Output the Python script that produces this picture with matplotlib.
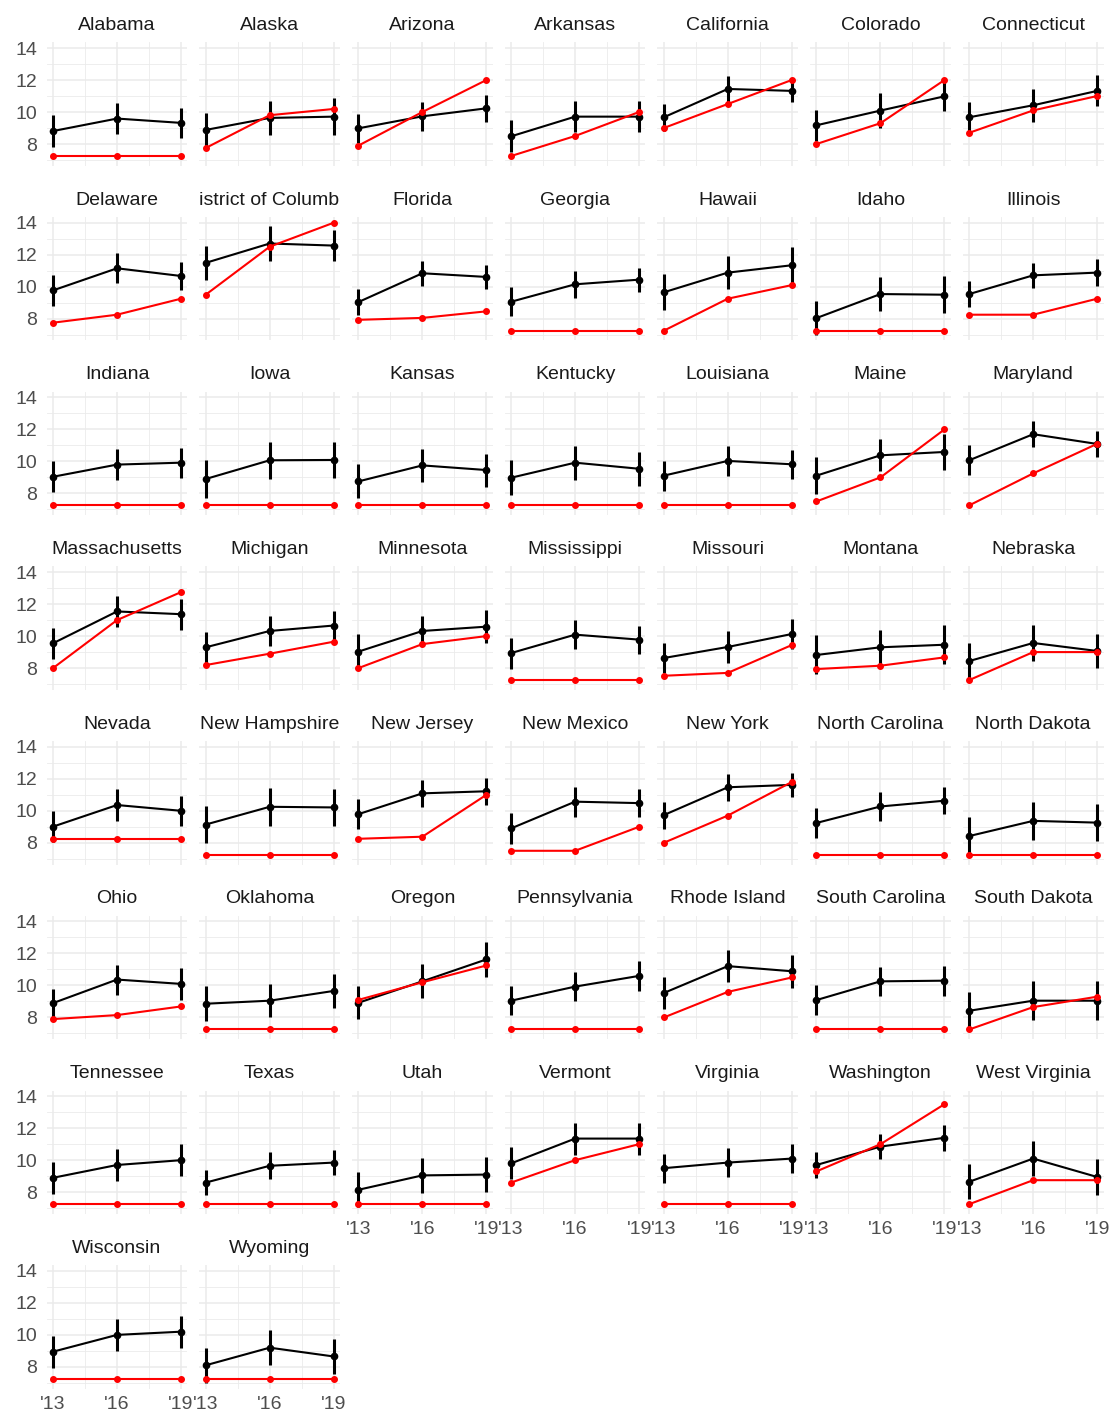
import numpy as np
import matplotlib
matplotlib.use("Agg")
from matplotlib import pyplot as plt
from matplotlib.transforms import Bbox, TransformedBbox

plt.rcParams['font.family'] = ['Liberation Sans', 'DejaVu Sans']

years = [2013, 2016, 2019]
year_labels = ["'13", "'16", "'19"]

states = ['Alabama', 'Alaska', 'Arizona', 'Arkansas', 'California', 'Colorado',
          'Connecticut', 'Delaware', 'District of Columbia', 'Florida', 'Georgia',
          'Hawaii', 'Idaho', 'Illinois', 'Indiana', 'Iowa', 'Kansas', 'Kentucky',
          'Louisiana', 'Maine', 'Maryland', 'Massachusetts', 'Michigan', 'Minnesota',
          'Mississippi', 'Missouri', 'Montana', 'Nebraska', 'Nevada', 'New Hampshire',
          'New Jersey', 'New Mexico', 'New York', 'North Carolina', 'North Dakota',
          'Ohio', 'Oklahoma', 'Oregon', 'Pennsylvania', 'Rhode Island',
          'South Carolina', 'South Dakota', 'Tennessee', 'Texas', 'Utah', 'Vermont',
          'Virginia', 'Washington', 'West Virginia', 'Wisconsin', 'Wyoming']

# estimated wage (black) for 2013, 2016, 2019
wage_est = [
    (8.81, 9.59, 9.32), (8.88, 9.63, 9.71), (8.98, 9.73, 10.23), (8.48, 9.71, 9.71),
    (9.67, 11.44, 11.32), (9.17, 10.09, 10.98), (9.67, 10.42, 11.32), (9.77, 11.15, 10.67),
    (11.49, 12.70, 12.57), (9.04, 10.84, 10.61), (9.06, 10.15, 10.44), (9.65, 10.88, 11.34),
    (8.04, 9.54, 9.50), (9.54, 10.71, 10.88), (9.04, 9.80, 9.92), (8.90, 10.07, 10.09),
    (8.75, 9.75, 9.46), (8.98, 9.92, 9.54), (9.11, 10.03, 9.82), (9.11, 10.38, 10.59),
    (10.07, 11.70, 11.09), (9.55, 11.54, 11.37), (9.30, 10.32, 10.66), (9.03, 10.32, 10.59),
    (8.94, 10.09, 9.78), (8.63, 9.32, 10.13), (8.82, 9.30, 9.46), (8.44, 9.57, 9.07),
    (9.01, 10.36, 10.00), (9.14, 10.25, 10.21), (9.79, 11.09, 11.22), (8.90, 10.57, 10.48),
    (9.73, 11.47, 11.62), (9.24, 10.27, 10.63), (8.42, 9.37, 9.26), (8.90, 10.37, 10.10),
    (8.86, 9.05, 9.66), (8.92, 10.26, 11.63), (9.05, 9.93, 10.60), (9.53, 11.21, 10.89),
    (9.09, 10.26, 10.30), (8.42, 9.05, 9.05), (8.90, 9.70, 10.00), (8.60, 9.65, 9.85),
    (8.15, 9.05, 9.10), (9.80, 11.35, 11.35), (9.50, 9.85, 10.10), (9.70, 10.85, 11.40),
    (8.65, 10.10, 8.95), (8.95, 10.00, 10.20), (8.10, 9.20, 8.65),
]

# half width of the error bars
wage_err = [
    (1.00, 0.97, 0.94), (1.06, 1.07, 1.15), (0.92, 0.90, 0.83), (1.00, 0.96, 0.97),
    (0.83, 0.80, 0.70), (0.96, 1.08, 0.90), (0.97, 1.04, 0.97), (0.99, 0.94, 0.89),
    (1.06, 1.10, 0.97), (0.80, 0.78, 0.73), (0.90, 0.83, 0.74), (1.13, 1.04, 1.15),
    (1.05, 1.04, 1.14), (0.81, 0.78, 0.86), (0.96, 0.99, 0.94), (1.19, 1.15, 1.10),
    (1.06, 1.04, 1.03), (1.10, 1.07, 1.07), (0.94, 0.94, 0.92), (1.16, 1.00, 1.13),
    (0.93, 0.81, 0.81), (0.96, 0.97, 0.96), (0.98, 0.92, 0.92), (1.07, 0.91, 1.01),
    (0.97, 0.89, 0.88), (0.96, 1.01, 0.96), (1.22, 1.05, 1.23), (1.12, 1.10, 1.07),
    (0.97, 0.98, 0.95), (1.14, 1.20, 1.16), (0.93, 0.84, 0.86), (0.97, 0.93, 0.87),
    (0.84, 0.84, 0.76), (0.94, 0.90, 0.84), (1.18, 1.17, 1.17), (0.86, 0.94, 1.00),
    (1.10, 1.05, 1.07), (1.03, 1.07, 1.07), (0.92, 0.92, 0.93), (1.02, 1.00, 1.03),
    (0.91, 0.89, 0.94), (1.20, 1.20, 1.23), (1.00, 1.00, 1.00), (0.80, 0.85, 0.80),
    (1.10, 1.10, 1.10), (1.00, 1.00, 1.00), (0.90, 0.90, 0.90), (0.80, 0.80, 0.80),
    (1.10, 1.10, 1.10), (1.00, 1.00, 1.00), (1.10, 1.10, 1.10),
]

# state minimum wage (red)
min_wage = [
    (7.25, 7.25, 7.25), (7.75, 9.80, 10.19), (7.90, 10.00, 12.00), (7.25, 8.50, 10.00),
    (9.00, 10.50, 12.00), (8.00, 9.30, 12.00), (8.70, 10.10, 11.00), (7.75, 8.25, 9.25),
    (9.50, 12.50, 14.00), (7.93, 8.05, 8.46), (7.25, 7.25, 7.25), (7.25, 9.25, 10.10),
    (7.25, 7.25, 7.25), (8.25, 8.25, 9.25), (7.25, 7.25, 7.25), (7.25, 7.25, 7.25),
    (7.25, 7.25, 7.25), (7.25, 7.25, 7.25), (7.25, 7.25, 7.25), (7.50, 9.00, 12.00),
    (7.25, 9.25, 11.10), (8.00, 11.00, 12.75), (8.19, 8.90, 9.65), (8.00, 9.50, 10.00),
    (7.25, 7.25, 7.25), (7.52, 7.70, 9.44), (7.94, 8.15, 8.67), (7.25, 9.00, 9.00),
    (8.25, 8.25, 8.25), (7.25, 7.25, 7.25), (8.25, 8.38, 11.00), (7.50, 7.50, 9.00),
    (8.00, 9.70, 11.80), (7.25, 7.25, 7.25), (7.25, 7.25, 7.25), (7.90, 8.15, 8.69),
    (7.25, 7.25, 7.25), (9.10, 10.20, 11.25), (7.25, 7.25, 7.25), (8.00, 9.60, 10.50),
    (7.25, 7.25, 7.25), (7.25, 8.65, 9.30), (7.25, 7.25, 7.25), (7.25, 7.25, 7.25),
    (7.25, 7.25, 7.25), (8.60, 10.00, 11.00), (7.25, 7.25, 7.25), (9.30, 11.00, 13.50),
    (7.25, 8.75, 8.75), (7.25, 7.25, 7.25), (7.25, 7.25, 7.25),
]

est = np.array(wage_est)
err = np.array(wage_err)
mw = np.array(min_wage)

# shared scales with ggplot style 5% expansion
lo = min((est - err).min(), mw.min())
hi = max((est + err).max(), mw.max())
pad = (hi - lo) * 0.05
ylim = (lo - pad, hi + pad)
xpad = (years[-1] - years[0]) * 0.05
xlim = (years[0] - xpad, years[-1] + xpad)

ncol, nrow = 7, 8
fig, axes = plt.subplots(nrow, ncol, figsize=(11.1, 14.18), dpi=100)
plt.subplots_adjust(left=0.042, right=0.9942, top=0.9701, bottom=0.0207,
                    wspace=0.0845, hspace=0.416)

n = len(states)
for i in range(nrow * ncol):
    r, c = divmod(i, ncol)
    ax = axes[r][c]
    if i >= n:
        ax.set_visible(False)
        continue

    ax.vlines(years, est[i] - err[i], est[i] + err[i], color='black', lw=2.2, zorder=3)
    ax.plot(years, est[i], color='black', lw=1.5, marker='o', ms=4.5, zorder=3)
    ax.plot(years, mw[i], color='red', lw=1.5, marker='o', ms=4, zorder=4)

    ax.set_xlim(xlim)
    ax.set_ylim(ylim)
    ax.set_xticks(years)
    ax.set_xticks([2014.5, 2017.5], minor=True)
    ax.set_yticks([8, 10, 12, 14])
    ax.set_yticks([7, 9, 11, 13], minor=True)
    ax.set_xticklabels(year_labels)
    ax.grid(which='major', color='#EBEBEB', lw=1.1)
    ax.grid(which='minor', color='#EBEBEB', lw=0.6)
    ax.set_axisbelow(True)
    for s in ax.spines.values():
        s.set_visible(False)

    # bottom panel in each column keeps x labels
    bottom = (i + ncol >= n)
    ax.tick_params(which='both', length=0, labelsize=14, labelcolor='#4D4D4D')
    ax.tick_params(axis='y', pad=7, labelleft=(c == 0))
    ax.tick_params(axis='x', pad=5, labelbottom=bottom)

    t = ax.set_title(states[i], fontsize=14, color='#1A1A1A', pad=9)
    t.set_clip_box(TransformedBbox(Bbox([[0, 1], [1, 1.4]]), ax.transAxes))
    t.set_clip_on(True)

fig.savefig('out.png', dpi=100)
